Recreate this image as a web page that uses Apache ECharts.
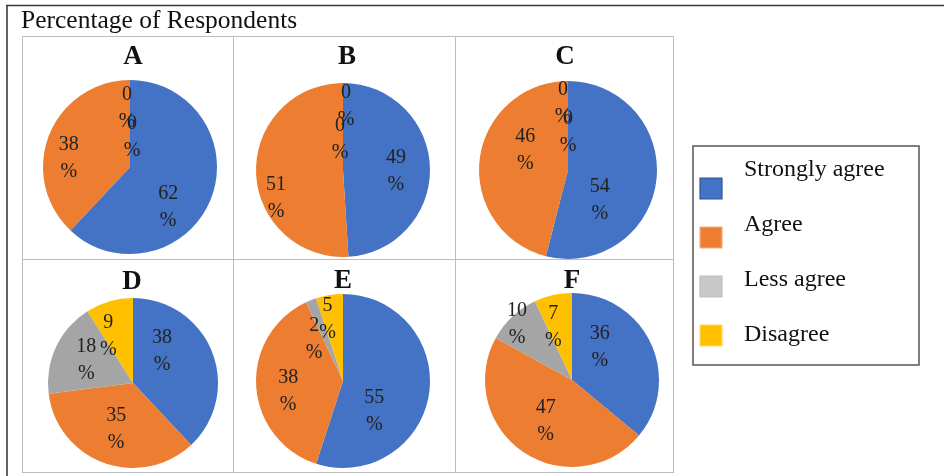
<!DOCTYPE html>
<html>
<head>
<meta charset="utf-8">
<script src="https://cdn.jsdelivr.net/npm/echarts/dist/echarts.min.js"></script>
<style>html,body{margin:0;padding:0;background:#fff;}#chart{width:944px;height:476px;}</style>
</head>
<body>
<div id="chart"></div>
<script>
// ---- data ----
const chartTitle = 'Percentage of Respondents';
const categories = ['Strongly agree', 'Agree', 'Less agree', 'Disagree'];
const groups = ['A', 'B', 'C', 'D', 'E', 'F'];
const stronglyAgree = [62, 49, 54, 38, 55, 36];
const agree = [38, 51, 46, 35, 38, 47];
const lessAgree = [0, 0, 0, 18, 2, 10];
const disagree = [0, 0, 0, 9, 5, 7];

// ---- styles / layout ----
const colors = ['#4472C4', '#ED7D31', '#A5A5A5', '#FFC000'];
const legendBorders = ['#2F5597', '#F4B183', '#BFBFBF', '#FFD966'];
const legendFills = ['#4472C4', '#ED7D31', '#C8C8C8', '#FFC000'];
const serif = '"Liberation Serif", "Times New Roman", serif';
const pies = [
  { cx: 130, cy: 167, r: 87, tx: 133, ty: 57 },
  { cx: 343, cy: 170, r: 87, tx: 347, ty: 57 },
  { cx: 568, cy: 170, r: 89, tx: 565, ty: 57 },
  { cx: 133, cy: 383, r: 85, tx: 132, ty: 282 },
  { cx: 343, cy: 381, r: 87, tx: 343, ty: 281 },
  { cx: 572, cy: 380, r: 87, tx: 572, ty: 281 }
];
// small label nudges (px) imitating the spreadsheet's "best fit" label placement
const labelNudge = [
  [[-12, 20], [-11, 11], [-3, 4], [2, 2]],
  [[-1, 3], [-13, 27], [3, -1], [-3, 1]],
  [[-23, 23], [12, -13], [-5, -3], [0, -6]],
  [[-20, -12], [1, -3], [1, 0], [-10, 4]],
  [[-22, 22], [-1, 7], [-9, 8], [-7, -8]],
  [[-21, -10], [4, -3], [-18, -16], [-7, 0]]
];

function labelPositions(vals, p, nudge) {
  const total = vals.reduce((a, b) => a + b, 0);
  let acc = 0, zeros = 0;
  return vals.map((v, i) => {
    const mid = (acc + v / 2) / total * 2 * Math.PI;
    acc += v;
    let k = 0.62;
    if (v === 0) { k = zeros === 0 ? 0.72 : 0.36; zeros++; }
    return [p.cx + k * p.r * Math.sin(mid) + nudge[i][0], p.cy - k * p.r * Math.cos(mid) + nudge[i][1]];
  });
}

const seriesValues = [stronglyAgree, agree, lessAgree, disagree];
const labelPos = [];
const series = groups.map((g, gi) => {
  const vals = seriesValues.map(arr => arr[gi]);
  const p = pies[gi];
  labelPos.push(labelPositions(vals, p, labelNudge[gi]));
  return {
    type: 'pie',
    name: g,
    center: [p.cx, p.cy],
    radius: p.r,
    startAngle: 90,
    clockwise: true,
    silent: true,
    minShowLabelAngle: -1,
    itemStyle: { borderWidth: 0 },
    label: {
      show: true,
      position: 'inside',
      formatter: prm => prm.value + '\n%',
      fontFamily: serif,
      fontSize: 20,
      lineHeight: 27,
      color: '#222'
    },
    labelLine: { show: false },
    emphasis: { disabled: true },
    labelLayout: prm => {
      const pos = labelPos[prm.seriesIndex][prm.dataIndex];
      return { x: pos[0], y: pos[1], align: 'center', verticalAlign: 'middle' };
    },
    data: categories.map((c, ci) => ({ name: c, value: vals[ci], itemStyle: { color: colors[ci] } }))
  };
});

// frame, grid, titles, legend
const graphic = [];
graphic.push({ type: 'line', shape: { x1: 6, y1: 5.5, x2: 944, y2: 5.5 }, style: { stroke: '#3a3a3a', lineWidth: 1.6 }, z: 10 });
graphic.push({ type: 'line', shape: { x1: 7, y1: 5, x2: 7, y2: 476 }, style: { stroke: '#3a3a3a', lineWidth: 1.6 }, z: 10 });
const gx = [22, 233, 455, 673], gy = [36, 259, 472];
gx.forEach(x => graphic.push({ type: 'line', shape: { x1: x + 0.5, y1: gy[0], x2: x + 0.5, y2: gy[2] + 1 }, style: { stroke: '#BDBDBD', lineWidth: 1 } }));
gy.forEach(y => graphic.push({ type: 'line', shape: { x1: gx[0], y1: y + 0.5, x2: gx[3] + 1, y2: y + 0.5 }, style: { stroke: '#BDBDBD', lineWidth: 1 } }));
graphic.push({ type: 'text', x: 21, y: 21, style: { text: chartTitle, font: '25.5px ' + serif, fill: '#111', align: 'left', verticalAlign: 'middle' } });
groups.forEach((g, gi) => graphic.push({ type: 'text', x: pies[gi].tx, y: pies[gi].ty, z: 20, style: { text: g, font: 'bold 27px ' + serif, fill: '#111', align: 'center', verticalAlign: 'middle' } }));
graphic.push({ type: 'rect', shape: { x: 693, y: 146, width: 226, height: 219 }, style: { fill: '#fff', stroke: '#555', lineWidth: 1.5 } });
categories.forEach((c, ci) => {
  graphic.push({ type: 'rect', shape: { x: 700, y: 178 + ci * 49, width: 22, height: 21 }, style: { fill: legendFills[ci], stroke: legendBorders[ci], lineWidth: 1.2 }, z: 5 });
  graphic.push({ type: 'text', x: 744, y: 170 + ci * 55, z: 5, style: { text: c, font: '24px ' + serif, fill: '#111', align: 'left', verticalAlign: 'middle' } });
});

const chart = echarts.init(document.getElementById('chart'), null, { renderer: 'canvas' });
chart.setOption({
  backgroundColor: '#fff',
  animation: false,
  series: series,
  graphic: graphic
});
</script>
</body>
</html>
